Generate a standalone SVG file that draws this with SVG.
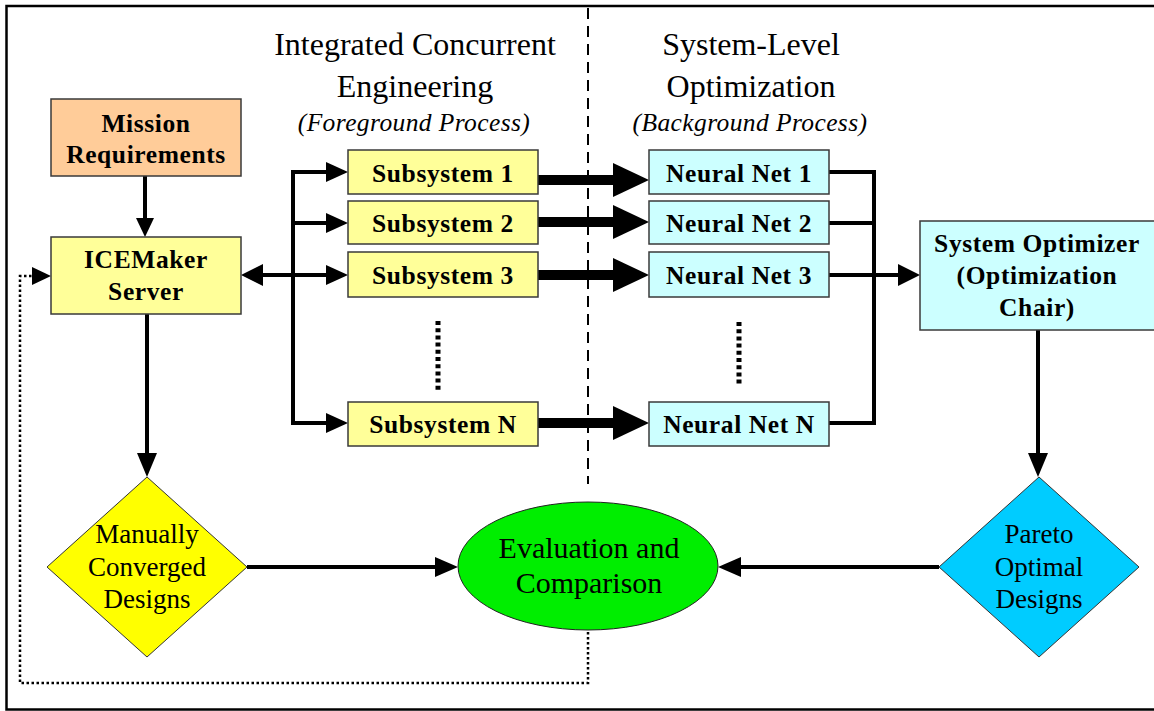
<svg xmlns="http://www.w3.org/2000/svg" width="1154" height="711" viewBox="0 0 1154 711">
  <style>
    text { font-family: "Liberation Serif", "Times New Roman", serif; fill: #000; text-anchor: middle; }
    .b { font-weight: bold; font-size: 25.5px; letter-spacing: 0.6px; }
    .r { font-size: 27px; }
    .h { font-size: 32px; }
    .e { font-size: 30px; }
    .i { font-size: 25.5px; font-style: italic; letter-spacing: 0.4px; }
    .box { stroke: #3a3a3a; stroke-width: 1.5; }
    .ln { stroke: #000; stroke-width: 4; fill: none; }
    .thick { stroke: #000; stroke-width: 10; fill: none; }
    .head { fill: #000; }
  </style>

  <rect width="1154" height="711" fill="#fff"/>
  <!-- frame (open on the right) -->
  <path d="M1160 6 H6.5 V709.5 H1160" fill="none" stroke="#000" stroke-width="2.5"/>

  <!-- divider between foreground and background processes -->
  <line x1="588" y1="8" x2="588" y2="484" stroke="#000" stroke-width="2" stroke-dasharray="11 7"/>

  <!-- column headings -->
  <g id="heading-ice">
    <text class="h" x="415" y="55">Integrated Concurrent</text>
    <text class="h" x="415" y="97">Engineering</text>
    <text class="i" x="414" y="131">(Foreground Process)</text>
  </g>
  <g id="heading-opt">
    <text class="h" x="751" y="55">System-Level</text>
    <text class="h" x="751" y="97">Optimization</text>
    <text class="i" x="750" y="131">(Background Process)</text>
  </g>

  <!-- connectors -->
  <g id="connectors">
    <!-- Mission Requirements -> ICEMaker Server -->
    <line class="ln" x1="145" y1="176" x2="145" y2="220"/>
    <polygon class="head" points="136,218 154,218 145,237"/>

    <!-- ICEMaker <-> subsystem bus -->
    <line class="ln" x1="293" y1="170" x2="293" y2="425"/>
    <line class="ln" x1="262" y1="275" x2="293" y2="275"/>
    <polygon class="head" points="263,264 263,286 241,275"/>
    <line class="ln" x1="291" y1="172" x2="328" y2="172"/>
    <polygon class="head" points="326,162 326,182 348,172"/>
    <line class="ln" x1="293" y1="223" x2="328" y2="223"/>
    <polygon class="head" points="326,213 326,233 348,223"/>
    <line class="ln" x1="293" y1="275" x2="328" y2="275"/>
    <polygon class="head" points="326,265 326,285 348,275"/>
    <line class="ln" x1="291" y1="423" x2="328" y2="423"/>
    <polygon class="head" points="326,413 326,433 348,423"/>

    <!-- subsystem -> neural net (thick) -->
    <line class="thick" x1="538" y1="180" x2="616" y2="180"/>
    <polygon class="head" points="613,163 613,197 649,180"/>
    <line class="thick" x1="538" y1="222" x2="616" y2="222"/>
    <polygon class="head" points="613,205 613,239 649,222"/>
    <line class="thick" x1="538" y1="275" x2="616" y2="275"/>
    <polygon class="head" points="613,258 613,292 649,275"/>
    <line class="thick" x1="538" y1="423" x2="616" y2="423"/>
    <polygon class="head" points="613,406 613,440 649,423"/>

    <!-- vertical ellipses -->
    <line x1="438" y1="321" x2="438" y2="392" stroke="#000" stroke-width="5" stroke-dasharray="4 3.2"/>
    <line x1="739" y1="322" x2="739" y2="386" stroke="#000" stroke-width="5" stroke-dasharray="4 3.2"/>

    <!-- neural nets -> system optimizer -->
    <line class="ln" x1="829" y1="172" x2="876" y2="172"/>
    <line class="ln" x1="829" y1="223" x2="874" y2="223"/>
    <line class="ln" x1="829" y1="275" x2="900" y2="275"/>
    <line class="ln" x1="829" y1="423" x2="876" y2="423"/>
    <line class="ln" x1="874" y1="170" x2="874" y2="425"/>
    <polygon class="head" points="898,264 898,286 920,275"/>

    <!-- ICEMaker -> manually converged designs -->
    <line class="ln" x1="147" y1="314" x2="147" y2="456"/>
    <polygon class="head" points="137,453 157,453 147,477"/>

    <!-- system optimizer -> pareto optimal designs -->
    <line class="ln" x1="1038" y1="330" x2="1038" y2="456"/>
    <polygon class="head" points="1028,453 1048,453 1038,477"/>

    <!-- designs -> evaluation -->
    <line class="ln" x1="247" y1="567" x2="437" y2="567"/>
    <polygon class="head" points="435,557 435,577 458,567"/>
    <line class="ln" x1="939" y1="567" x2="739" y2="567"/>
    <polygon class="head" points="741,557 741,577 718,567"/>

    <!-- feedback loop back to ICEMaker -->
    <path d="M588 632 V683 H20 V276 H33" fill="none" stroke="#000" stroke-width="2.5" stroke-dasharray="2.5 2.5"/>
    <polygon class="head" points="32,267 32,285 51,276"/>
  </g>

  <!-- nodes -->
  <g id="mission">
    <rect class="box" x="51" y="99" width="190" height="77" fill="#ffcc99"/>
    <text class="b" x="146" y="132">Mission</text>
    <text class="b" x="146" y="163">Requirements</text>
  </g>
  <g id="icemaker">
    <rect class="box" x="51" y="237" width="190" height="77" fill="#ffff99"/>
    <text class="b" x="146" y="268">ICEMaker</text>
    <text class="b" x="146" y="300">Server</text>
  </g>

  <g id="subsystem-1">
    <rect class="box" x="348" y="150" width="190" height="44" fill="#ffff99"/>
    <text class="b" x="443" y="182">Subsystem 1</text>
  </g>
  <g id="subsystem-2">
    <rect class="box" x="348" y="201" width="190" height="43" fill="#ffff99"/>
    <text class="b" x="443" y="232">Subsystem 2</text>
  </g>
  <g id="subsystem-3">
    <rect class="box" x="348" y="252" width="190" height="45" fill="#ffff99"/>
    <text class="b" x="443" y="284">Subsystem 3</text>
  </g>
  <g id="subsystem-n">
    <rect class="box" x="348" y="402" width="190" height="44" fill="#ffff99"/>
    <text class="b" x="443" y="433">Subsystem N</text>
  </g>

  <g id="neural-net-1">
    <rect class="box" x="649" y="150" width="180" height="44" fill="#ccffff"/>
    <text class="b" x="739" y="182">Neural Net 1</text>
  </g>
  <g id="neural-net-2">
    <rect class="box" x="649" y="201" width="180" height="43" fill="#ccffff"/>
    <text class="b" x="739" y="232">Neural Net 2</text>
  </g>
  <g id="neural-net-3">
    <rect class="box" x="649" y="252" width="180" height="45" fill="#ccffff"/>
    <text class="b" x="739" y="284">Neural Net 3</text>
  </g>
  <g id="neural-net-n">
    <rect class="box" x="649" y="402" width="180" height="44" fill="#ccffff"/>
    <text class="b" x="739" y="433">Neural Net N</text>
  </g>

  <g id="system-optimizer">
    <rect class="box" x="920" y="221" width="240" height="109" fill="#ccffff"/>
    <text class="b" x="1037" y="252">System Optimizer</text>
    <text class="b" x="1037" y="284">(Optimization</text>
    <text class="b" x="1037" y="316">Chair)</text>
  </g>

  <g id="manual-designs">
    <polygon points="147,477 247,567 147,657 47,567" fill="#ffff00" stroke="#333" stroke-width="1"/>
    <text class="r" x="147" y="543">Manually</text>
    <text class="r" x="147" y="576">Converged</text>
    <text class="r" x="147" y="608">Designs</text>
  </g>

  <g id="evaluation">
    <ellipse cx="588" cy="566" rx="130" ry="64" fill="#00ee00" stroke="#222" stroke-width="1"/>
    <text class="e" x="589" y="558">Evaluation and</text>
    <text class="e" x="589" y="593">Comparison</text>
  </g>

  <g id="pareto-designs">
    <polygon points="1039,477 1139,567 1039,657 939,567" fill="#00ccff" stroke="#333" stroke-width="1"/>
    <text class="r" x="1039" y="543">Pareto</text>
    <text class="r" x="1039" y="576">Optimal</text>
    <text class="r" x="1039" y="608">Designs</text>
  </g>
</svg>
